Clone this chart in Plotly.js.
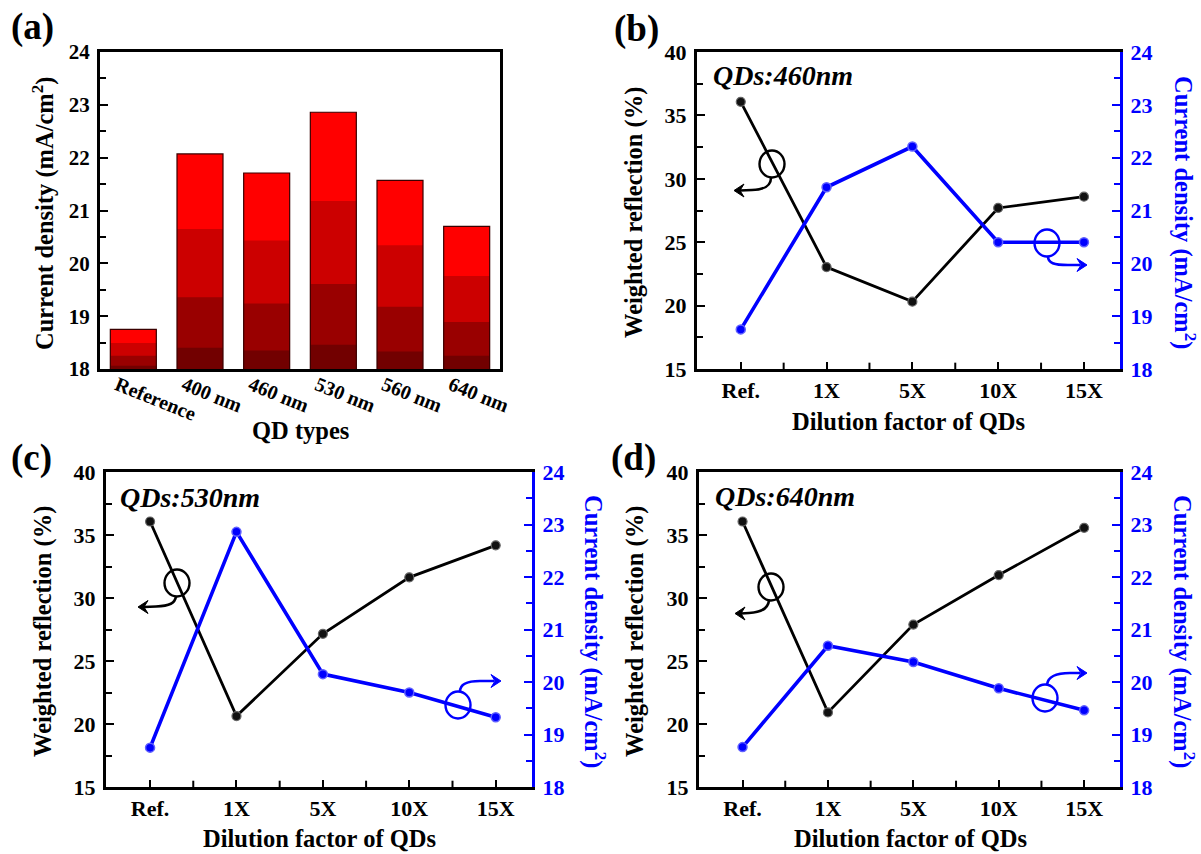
<!DOCTYPE html>
<html>
<head>
<meta charset="utf-8">
<script src="https://cdn.plot.ly/plotly-3.0.1.min.js"></script>
<style>html,body{margin:0;padding:0;background:#fff;}#chart{width:1201px;height:854px;}</style>
</head>
<body>
<div id="chart"></div>
<script>
// ---------- DATA ----------
const qdTypes = ["Reference", "400 nm", "460 nm", "530 nm", "560 nm", "640 nm"];
// stacked colour bands of panel (a): top edge of each band (mA/cm2)
const bandTop4 = [18.75, 22.07, 21.71, 22.86, 21.57, 20.70]; // brightest (total)
const bandTop3 = [18.49, 20.65, 20.43, 21.18, 20.34, 19.76];
const bandTop2 = [18.25, 19.36, 19.24, 19.61, 19.18, 18.89];
const bandTop1 = [18.06, 18.40, 18.35, 18.46, 18.33, 18.25]; // darkest

const dilution = ["Ref.", "1X", "5X", "10X", "15X"];
const refl460 = [36.07, 23.04, 20.31, 27.70, 28.59];
const jsc460  = [18.75, 21.44, 22.21, 20.40, 20.40];
const refl530 = [36.07, 20.63, 27.16, 31.64, 34.18];
const jsc530  = [18.75, 22.86, 20.15, 19.80, 19.33];
const refl640 = [36.07, 20.92, 27.89, 31.82, 35.57];
const jsc640  = [18.76, 20.69, 20.38, 19.88, 19.46];

// ---------- STYLE ----------
const W = 1201, H = 854;
const px = x => x / W;
const py = y => 1 - y / H;
const FONT = "'Liberation Serif', 'Times New Roman', serif";
const BLUE = "#0000FF";
const tickFont = {family: FONT, size: 22, color: "#000", weight: "bold"};
const tickFontBlue = {family: FONT, size: 22, color: BLUE, weight: "bold"};
const titleFont = {family: FONT, size: 24.5, color: "#000", weight: "bold"};
const titleFontBlue = {family: FONT, size: 24.5, color: BLUE, weight: "bold"};

const traces = [];
// panel (a) bars (overlaid, brightest first)
const bandColors = ["#FF0000", "#CC0000", "#990000", "#720000"];
[bandTop4, bandTop3, bandTop2, bandTop1].forEach((vals, i) => {
  traces.push({type: "bar", x: qdTypes, y: vals, width: 0.69, xaxis: "x", yaxis: "y",
    marker: {color: bandColors[i], line: {width: 0}}, hoverinfo: "skip", showlegend: false});
});
traces.push({type: "bar", x: qdTypes, y: bandTop4, width: 0.69, xaxis: "x", yaxis: "y",
  marker: {color: "rgba(0,0,0,0)", line: {width: 1.2, color: "#3a0000"}}, showlegend: false});

function addPair(xa, yl, yr, refl, jsc) {
  traces.push({type: "scatter", mode: "lines+markers", x: dilution, y: refl, xaxis: xa, yaxis: yl,
    line: {color: "#000", width: 2.8}, marker: {symbol: "circle", size: 9, color: "#111", line: {color: "#666", width: 1.2}},
    showlegend: false});
  traces.push({type: "scatter", mode: "lines+markers", x: dilution, y: jsc, xaxis: xa, yaxis: yr,
    line: {color: BLUE, width: 3.6}, marker: {symbol: "circle", size: 9, color: BLUE, line: {color: "#6060ff", width: 1.5}},
    showlegend: false});
}
addPair("x2", "y2", "y3", refl460, jsc460);
addPair("x3", "y4", "y5", refl530, jsc530);
addPair("x4", "y6", "y7", refl640, jsc640);

// domains
const topRow = [py(369), py(52)];
const botRow = [py(787), py(472)];
const dA = [px(100), px(500)];
const dB = [px(697), px(1120)];
const dC = [px(106), px(532)];
const dD = [px(699), px(1120)];

function xCat(domain, anchor) {
  return {domain: domain, anchor: anchor, type: "category", range: [-0.51, 4.42],
    showline: true, linecolor: "#000", linewidth: 3, mirror: true,
    ticks: "inside", ticklen: 7, tickwidth: 2, tickcolor: "#000",
    showgrid: false, zeroline: false, tickfont: tickFont, fixedrange: true};
}
function yLeft(domain, anchor) {
  return {domain: domain, anchor: anchor, range: [15, 40], dtick: 5,
    showline: true, linecolor: "#000", linewidth: 3, mirror: false,
    ticks: "inside", ticklen: 8, tickwidth: 2, tickcolor: "#000",
    minor: {dtick: 2.5, ticks: "inside", ticklen: 6, tickwidth: 2, tickcolor: "#000", showgrid: false},
    showgrid: false, zeroline: false, tickfont: tickFont, ticklabelstandoff: 3};
}
function yRight(overlay, anchor) {
  return {overlaying: overlay, anchor: anchor, side: "right", range: [18, 24], dtick: 1,
    showline: true, linecolor: BLUE, linewidth: 3,
    ticks: "inside", ticklen: 8, tickwidth: 2, tickcolor: BLUE,
    minor: {dtick: 0.5, ticks: "inside", ticklen: 6, tickwidth: 2, tickcolor: BLUE, showgrid: false},
    showgrid: false, zeroline: false, tickfont: tickFontBlue, ticklabelstandoff: 3};
}

const layout = {
  width: W, height: H, margin: {l: 0, r: 0, t: 0, b: 0},
  paper_bgcolor: "#fff", plot_bgcolor: "#fff", showlegend: false,
  barmode: "overlay", font: {family: FONT, color: "#000"},
  xaxis: {domain: dA, anchor: "y", type: "category", range: [-0.5, 5.5],
    showline: true, linecolor: "#000", linewidth: 3, mirror: true, ticks: "",
    tickangle: 22, ticklabelshift: -16, ticklabelstandoff: -6, showgrid: false, zeroline: false,
    tickfont: {family: FONT, size: 20, color: "#000", weight: "bold"}},
  yaxis: {domain: topRow, anchor: "x", range: [18, 24], dtick: 1,
    showline: true, linecolor: "#000", linewidth: 3, mirror: true,
    ticks: "inside", ticklen: 8, tickwidth: 2, tickcolor: "#000",
    minor: {dtick: 0.5, ticks: "inside", ticklen: 6, tickwidth: 2, tickcolor: "#000", showgrid: false},
    showgrid: false, zeroline: false, tickfont: {family: FONT, size: 21, color: "#000", weight: "bold"}, ticklabelstandoff: 3},
  xaxis2: xCat(dB, "y2"), yaxis2: yLeft(topRow, "x2"), yaxis3: yRight("y2", "x2"),
  xaxis3: xCat(dC, "y4"), yaxis4: yLeft(botRow, "x3"), yaxis5: yRight("y4", "x3"),
  xaxis4: xCat(dD, "y6"), yaxis6: yLeft(botRow, "x4"), yaxis7: yRight("y6", "x4"),
  annotations: [], shapes: []
};

function txt(text, x, y, opts) {
  layout.annotations.push(Object.assign({text: text, x: px(x), y: py(y), xref: "paper", yref: "paper",
    showarrow: false, xanchor: "center", yanchor: "middle", font: titleFont}, opts || {}));
}
// panel labels
const panelFont = {family: FONT, size: 37, color: "#000", weight: "bold"};
txt("(a)", 32, 27, {font: panelFont});
txt("(b)", 636, 29, {font: panelFont});
txt("(c)", 31, 458, {font: panelFont});
txt("(d)", 633, 458, {font: panelFont});
// axis titles
txt("Current density (mA/cm<sup>2</sup>)", 44, 213, {textangle: -90});
txt("QD types", 300, 430);
txt("Weighted reflection (%)", 634, 213, {textangle: -90});
txt("Current density (mA/cm<sup>2</sup>)", 1184, 213, {textangle: 90, font: titleFontBlue});
txt("Dilution factor of QDs", 908, 421);
txt("Weighted reflection (%)", 43, 632, {textangle: -90});
txt("Current density (mA/cm<sup>2</sup>)", 595, 632, {textangle: 90, font: titleFontBlue});
txt("Dilution factor of QDs", 319, 838);
txt("Weighted reflection (%)", 635, 632, {textangle: -90});
txt("Current density (mA/cm<sup>2</sup>)", 1184, 632, {textangle: 90, font: titleFontBlue});
txt("Dilution factor of QDs", 910, 838);
// inset labels
const italicFont = {family: FONT, size: 28, color: "#000", weight: "bold", style: "italic"};
txt("QDs:460nm", 711, 76, {xanchor: "left", font: italicFont});
txt("QDs:530nm", 118, 497, {xanchor: "left", font: italicFont});
txt("QDs:640nm", 713, 496, {xanchor: "left", font: italicFont});

// minor x ticks at mid-category positions
[["x2", "y2"], ["x3", "y4"], ["x4", "y6"]].forEach(([xa, ya]) => {
  [0.5, 1.5, 2.5, 3.5].forEach(m => {
    layout.shapes.push({type: "line", xref: xa, yref: ya + " domain", x0: m, x1: m, y0: 0, y1: 0.02,
      line: {color: "#000", width: 2}});
  });
});

// circle + curved arrow markers
function ring(cx, cy, color) {
  layout.shapes.push({type: "circle", xref: "paper", yref: "paper",
    x0: px(cx - 12.5), x1: px(cx + 12.5), y0: py(cy + 13.5), y1: py(cy - 13.5),
    line: {color: color, width: 2.4}, fillcolor: "rgba(0,0,0,0)"});
}
function P(x, y) { return px(x) + "," + py(y); }
function curve(pts, color) {
  const [s, c1, c2, e, t] = pts;
  layout.shapes.push({type: "path", xref: "paper", yref: "paper",
    path: "M" + P(s[0], s[1]) + " C" + P(c1[0], c1[1]) + " " + P(c2[0], c2[1]) + " " + P(e[0], e[1]) + " L" + P(t[0], t[1]),
    line: {color: color, width: 2.6}});
}
function head(tx, ty, dir, color) {
  const b = tx - dir * 10, n = tx - dir * 6;
  layout.shapes.push({type: "path", xref: "paper", yref: "paper",
    path: "M" + P(tx, ty) + " L" + P(b, ty - 6.5) + " L" + P(n, ty) + " L" + P(b, ty + 6.5) + " Z",
    line: {color: color, width: 1}, fillcolor: color});
}
// (b)
ring(772, 164, "#000");
curve([[771, 177.5], [771, 186], [765, 189.5], [752, 190], [740, 190.5]], "#000");
head(734, 190.5, -1, "#000");
ring(1047, 243, BLUE);
curve([[1048, 256.5], [1048, 263], [1054, 265], [1068, 265], [1080, 265]], BLUE);
head(1087, 265, 1, BLUE);
// (c)
ring(177, 583, "#000");
curve([[176, 596.5], [175, 603], [170, 606], [156, 606.5], [144, 607]], "#000");
head(138, 607, -1, "#000");
ring(458, 705, BLUE);
curve([[460, 691.5], [460, 685], [465, 681], [480, 681], [494, 681]], BLUE);
head(501, 681, 1, BLUE);
// (d)
ring(771, 587, "#000");
curve([[769, 600.5], [768, 609], [761, 612.5], [749, 613], [741, 613.5]], "#000");
head(735, 613.5, -1, "#000");
ring(1045, 698, BLUE);
curve([[1047, 684.5], [1048, 677], [1055, 673], [1070, 673], [1080, 673]], BLUE);
head(1087, 673, 1, BLUE);

Plotly.newPlot("chart", traces, layout, {staticPlot: true, displayModeBar: false});
</script>
</body>
</html>
